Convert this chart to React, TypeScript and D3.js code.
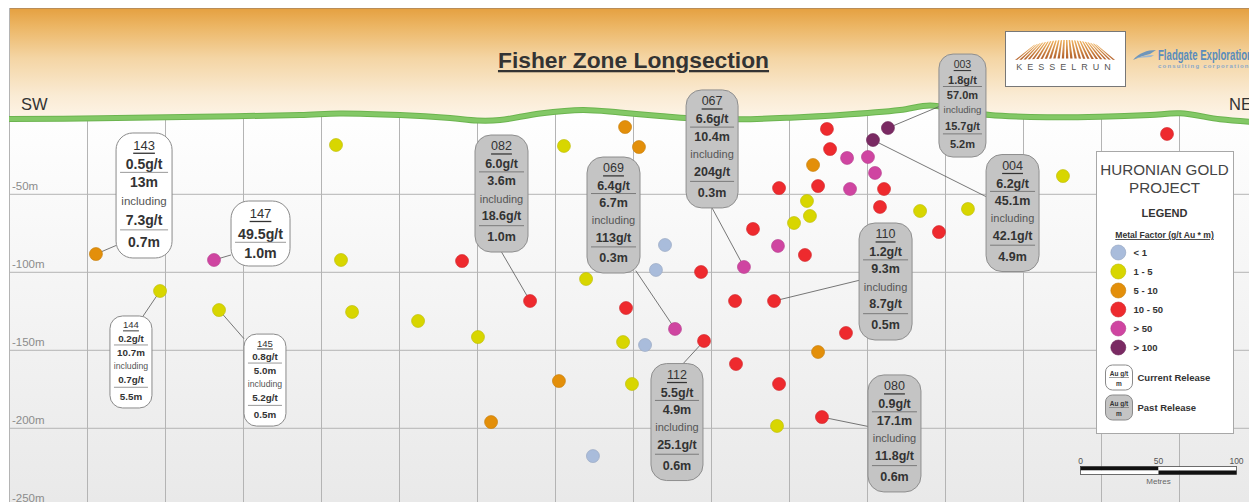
import { useEffect, useRef } from 'react';
import * as d3 from 'd3';

// 金属係数クラス (g/t Au * m)
const mfLabels = ['< 1', '1 - 5', '5 - 10', '10 - 50', '> 50', '> 100'];
const mfColors = ['#a9bcdb', '#d8d600', '#e38f0a', '#ee2a2e', '#cf45a1', '#7a2a63'];

// 着鉱点 [断面距離 m, 標高 m]
const mfBelow1 = [[370.2, -82.5], [364.4, -98.5], [357.4, -146.6], [324.0, -217.8]];
const mf1to5 = [
  [159.3, -18.4], [162.5, -92.1], [46.5, -112.0], [84.3, -124.2], [169.6, -125.4],
  [211.9, -131.2], [250.3, -141.5], [305.4, -19.0], [319.6, -104.3], [343.3, -144.7],
  [349.0, -171.6], [452.9, -68.4], [461.2, -54.3], [463.1, -63.9], [533.7, -60.7],
  [564.4, -59.4], [625.3, -38.3], [442.0, -198.5]
];
const mf5to10 = [[5.4, -88.3], [344.6, -6.9], [353.5, -19.7], [302.2, -169.7], [258.7, -196.0], [465.1, -31.2], [468.3, -151.1]];
const mf10to50 = [
  [240.1, -92.8], [283.7, -118.4], [345.2, -122.9], [393.3, -99.8], [395.2, -144.0],
  [415.1, -118.4], [440.1, -118.4], [426.6, -72.2], [459.9, -88.9], [443.3, -46.0],
  [468.3, -44.7], [474.0, -8.1], [476.0, -21.0], [510.6, -46.6], [508.0, -58.1],
  [545.8, -74.2], [692.0, -11.3], [415.7, -158.8], [443.3, -171.6], [486.2, -138.9],
  [470.8, -192.8]
];
const mfOver50 = [[81.1, -92.1], [376.6, -136.3], [420.8, -96.6], [442.6, -83.1], [486.9, -26.7], [500.3, -26.1], [504.8, -36.3], [488.8, -46.6]];
const mfOver100 = [[513.1, -7.5], [503.5, -15.2]];
const mfClasses = [mfBelow1, mf1to5, mf5to10, mf10to50, mfOver50, mfOver100];

// 地表プロファイル
const surfaceAlong = [-50.3, 8.0, 72.1, 136.2, 161.9, 200.3, 232.4, 249.7, 264.4, 290.1, 317.6, 341.3, 366.9, 386.2, 418.3, 450.3, 482.4, 520.8, 540.1, 559.3, 578.5, 617.0, 649.0, 681.1, 700.3, 726.0, 745.2];
const surfaceElev = [-1.7, -1.3, -0.3, 0.8, 1.8, 0.8, -1.1, -2.7, -2.4, 1.8, 4.0, 2.4, 0.2, -1.3, -1.9, -0.9, 0.8, 4.0, 6.9, 4.0, 0.8, -0.6, -0.3, 0.8, 1.9, -1.9, -3.5];

// 軸
const gridAlong = [0, 50, 100, 150, 200, 250, 300, 350, 400, 450, 500, 550, 600, 650, 700];
const elevTicks = [-50, -100, -150, -200, -250];

// ドリルホールの結果
const holeIds = ['143', '147', '144', '145', '082', '069', '067', '003', '004', '110', '112', '080'];
const holeGrade = ['0.5', '49.5', '0.2', '0.8', '6.0', '6.4', '6.6', '1.8', '6.2', '1.2', '5.5', '0.9'];
const holeLength = ['13', '1.0', '10.7', '5.0', '3.6', '6.7', '10.4', '57.0', '45.1', '9.3', '4.9', '17.1'];
const inclGrade = ['7.3', null, '0.7', '5.2', '18.6', '113', '204', '15.7', '42.1', '8.7', '25.1', '11.8'];
const inclLength = ['0.7', null, '5.5', '0.5', '1.0', '0.3', '0.3', '5.2', '4.9', '0.5', '0.6', '0.6'];
const holeRelease = ['current', 'current', 'current', 'current', 'past', 'past', 'past', 'past', 'past', 'past', 'past', 'past'];
const holeTarget = [[5.4, -88.3], [81.1, -92.1], [46.5, -112.0], [84.3, -124.2], [283.7, -118.4], [376.6, -136.3], [420.8, -96.6], [513.1, -7.5], [503.5, -15.2], [440.1, -118.4], [395.2, -144.0], [470.8, -192.8]];

// 吹き出しの配置 (左上の断面座標 + サイズ/フォント)
const boxLayout = [
  { along: 18.3, elev: -10.7, w: 56, h: 125, fv: 14, fi: 13, fc: 11.5, ax: 0, ay: 0.9 },
  { along: 92.0, elev: -54.3, w: 59, h: 65, fv: 14.2, fi: 13, fc: 11, ax: 0, ay: 0.83 },
  { along: 14.4, elev: -128.0, w: 42, h: 92, fv: 9.8, fi: 9.5, fc: 8.7, ax: 0.79, ay: 0 },
  { along: 100.3, elev: -139.6, w: 42, h: 92, fv: 9.8, fi: 9.5, fc: 8.7, ax: 0, ay: 0.05 },
  { along: 248.4, elev: -12.0, w: 53, h: 117, fv: 12.5, fi: 12.5, fc: 11, ax: 0.5, ay: 1 },
  { along: 320.2, elev: -26.1, w: 53, h: 116, fv: 12.5, fi: 12.5, fc: 11, ax: 0.92, ay: 0.98 },
  { along: 383.7, elev: 16.9, w: 52, h: 118, fv: 12.5, fi: 12.5, fc: 11, ax: 0.5, ay: 1 },
  { along: 545.8, elev: 39.9, w: 47, h: 103, fv: 11, fi: 10.5, fc: 9.6, ax: 0, ay: 0.51 },
  { along: 576.0, elev: -24.5, w: 53, h: 117, fv: 12.5, fi: 12.5, fc: 11, ax: 0, ay: 0.36 },
  { along: 494.6, elev: -68.4, w: 53, h: 117, fv: 12.5, fi: 12.5, fc: 11, ax: 0, ay: 0.49 },
  { along: 361.2, elev: -158.5, w: 52, h: 117, fv: 12.5, fi: 12.5, fc: 11, ax: 0.62, ay: 0 },
  { along: 500.3, elev: -165.8, w: 53, h: 117, fv: 12.5, fi: 12.5, fc: 11, ax: 0, ay: 0.44 }
];

const W = 1249;
const H = 502;
const FONT = "'Liberation Sans', Arial, sans-serif";

export default function App() {
  const svgRef = useRef<SVGSVGElement>(null);

  useEffect(() => {
    const svg = d3.select(svgRef.current).html('');

    // 1.56 px / m の断面スケール
    const x = d3.scaleLinear().domain([0, 700]).range([87.5, 87.5 + 700 * 1.56]);
    const y = d3.scaleLinear().domain([0, -250]).range([116.3, 116.3 + 250 * 1.56]);

    const defs = svg.append('defs');
    const sky = defs.append('linearGradient').attr('id', 'sky').attr('x1', 0).attr('x2', 0).attr('y1', 0).attr('y2', 1);
    [['0%', '#e5a040'], ['15%', '#ecb665'], ['40%', '#f4d5a4'], ['70%', '#faebd4'], ['100%', '#fffaf3']].forEach(([o, c]) =>
      sky.append('stop').attr('offset', o).attr('stop-color', c));
    const ground = defs.append('linearGradient').attr('id', 'ground').attr('x1', 0).attr('x2', 0).attr('y1', 0).attr('y2', 1);
    [['0%', '#ffffff'], ['100%', '#e9e9e9']].forEach(([o, c]) =>
      ground.append('stop').attr('offset', o).attr('stop-color', c));
    const rays = defs.append('linearGradient').attr('id', 'rays').attr('x1', 0).attr('x2', 0).attr('y1', 0).attr('y2', 1);
    [['0%', '#f0b35e'], ['100%', '#b2602c']].forEach(([o, c]) =>
      rays.append('stop').attr('offset', o).attr('stop-color', c));

    const profile = surfaceAlong.map((a, i) => [a, surfaceElev[i]]);
    const area = d3.area<number[]>().x(d => x(d[0])).y0(H).y1(d => y(d[1])).curve(d3.curveCatmullRom);
    const line = d3.line<number[]>().x(d => x(d[0])).y(d => y(d[1])).curve(d3.curveCatmullRom);

    defs.append('clipPath').attr('id', 'underground').append('path').attr('d', area(profile));

    // 背景
    svg.append('rect').attr('x', 9).attr('y', 8).attr('width', W - 9).attr('height', 125).attr('fill', 'url(#sky)');
    svg.append('line').attr('x1', 9).attr('x2', W).attr('y1', 8.5).attr('y2', 8.5).attr('stroke', '#b98d58').attr('stroke-width', 1);
    svg.append('path').attr('d', area(profile)).attr('fill', 'url(#ground)');

    // グリッド
    const grid = svg.append('g').attr('clip-path', 'url(#underground)').attr('stroke', '#b4b4b4').attr('stroke-width', 1);
    gridAlong.forEach(a => grid.append('line').attr('x1', x(a)).attr('x2', x(a)).attr('y1', 90).attr('y2', H));
    elevTicks.forEach(e => grid.append('line').attr('x1', 9).attr('x2', W).attr('y1', y(e)).attr('y2', y(e)));
    svg.append('line').attr('x1', 9.5).attr('x2', 9.5).attr('y1', 8).attr('y2', H).attr('stroke', '#b4b4b4');

    elevTicks.forEach(e => svg.append('text').attr('x', 12).attr('y', y(e) - 4)
      .attr('font-family', FONT).attr('font-size', 11.5).attr('fill', '#8c8c8c').text(`${e}m`));

    // 地表線
    svg.append('path').attr('d', line(profile)).attr('fill', 'none').attr('stroke', '#6cb44f').attr('stroke-width', 6);
    svg.append('path').attr('d', line(profile)).attr('fill', 'none').attr('stroke', '#83c866').attr('stroke-width', 4);

    // タイトル, 方位
    svg.append('text').attr('x', 633.5).attr('y', 68).attr('text-anchor', 'middle')
      .attr('font-family', FONT).attr('font-weight', 'bold').attr('font-size', 22.8).attr('fill', '#333')
      .attr('text-decoration', 'underline').text('Fisher Zone Longsection');
    svg.append('text').attr('x', 21).attr('y', 110).attr('font-family', FONT).attr('font-size', 16.5).attr('fill', '#333').text('SW');
    svg.append('text').attr('x', 1229).attr('y', 110).attr('font-family', FONT).attr('font-size', 16.5).attr('fill', '#333').text('NE');

    // ロゴ (Kesselrun)
    svg.append('rect').attr('x', 1005.5).attr('y', 31.5).attr('width', 120).attr('height', 55).attr('fill', '#fff').attr('stroke', '#777');
    const N = 24;
    const xb = (t: number) => 1015 + t * 102;
    const yb = (t: number) => 60 - (1 - ((t - 0.5) * 2) ** 2) * 1.5;
    const xt = (t: number) => 1034 + t * 64;
    const yt = (t: number) => 40 + ((t - 0.5) * 2) ** 2 * 5;
    const rayG = svg.append('g').attr('fill', 'url(#rays)');
    for (let i = 0; i < N; i++) {
      const t0 = i / N;
      const t1 = (i + 0.55) / N;
      rayG.append('polygon').attr('points', [[xb(t0), yb(t0)], [xt(t0), yt(t0)], [xt(t1), yt(t1)], [xb(t1), yb(t1)]].map(p => p.join(',')).join(' '));
    }
    svg.append('text').attr('x', 1066).attr('y', 70).attr('text-anchor', 'middle').attr('font-family', FONT)
      .attr('font-size', 9).attr('letter-spacing', 5).attr('fill', '#555').text('KESSELRUN');

    // ロゴ (Fladgate)
    svg.append('path').attr('d', 'M1133,60 C1139,53 1147,50 1156,50 L1150,54 C1145,55 1140,57 1133,60 Z').attr('fill', '#6f96ba');
    svg.append('path').attr('d', 'M1136,58 C1142,56 1148,55 1154,55 L1151,57 C1146,57 1141,58 1136,58 Z').attr('fill', '#9bb7d2');
    svg.append('text').attr('x', 1158).attr('y', 60).attr('font-family', "'Liberation Sans Narrow', 'Liberation Sans', Arial, sans-serif")
      .attr('font-weight', 'bold').attr('font-size', 14.5).attr('fill', '#5a8cbc')
      .attr('textLength', 95).attr('lengthAdjust', 'spacingAndGlyphs').text('Fladgate Exploration');
    svg.append('text').attr('x', 1158).attr('y', 67.5).attr('font-family', FONT).attr('font-weight', 'bold')
      .attr('font-size', 6).attr('letter-spacing', 1.2).attr('fill', '#8aa8c8').text('consulting corporation');

    // 引き出し線
    const leaders = svg.append('g').attr('stroke', '#555').attr('stroke-width', 0.8);
    holeIds.forEach((_, i) => {
      const L = boxLayout[i];
      const bx = x(L.along);
      const by = y(L.elev);
      leaders.append('line')
        .attr('x1', x(holeTarget[i][0])).attr('y1', y(holeTarget[i][1]))
        .attr('x2', bx + L.w * L.ax).attr('y2', by + L.h * L.ay);
    });

    // 着鉱点
    mfClasses.forEach((pts, ci) => {
      svg.append('g').selectAll('circle').data(pts).enter().append('circle')
        .attr('cx', d => x(d[0])).attr('cy', d => y(d[1])).attr('r', 6.5)
        .attr('fill', mfColors[ci])
        .attr('stroke', d3.color(mfColors[ci])!.darker(0.4).toString()).attr('stroke-width', 0.6);
    });

    // 吹き出し
    holeIds.forEach((id, i) => {
      const L = boxLayout[i];
      const bx = x(L.along);
      const by = y(L.elev);
      const past = holeRelease[i] === 'past';
      const g = svg.append('g');
      g.append('rect').attr('x', bx).attr('y', by).attr('width', L.w).attr('height', L.h)
        .attr('rx', L.w * 0.3).attr('ry', Math.min(L.w * 0.3, L.h * 0.3))
        .attr('fill', past ? '#c4c4c4' : '#ffffff').attr('stroke', past ? '#8e8e8e' : '#8a8a8a').attr('stroke-width', 1);

      const rows = inclGrade[i] == null
        ? [
          { t: id, f: 'id', fy: 0.19 },
          { t: `${holeGrade[i]}g/t`, f: 'v', fy: 0.5 },
          { t: `${holeLength[i]}m`, f: 'v', fy: 0.8 }
        ]
        : [
          { t: id, f: 'id', fy: 0.097 },
          { t: `${holeGrade[i]}g/t`, f: 'v', fy: 0.248 },
          { t: `${holeLength[i]}m`, f: 'v', fy: 0.395 },
          { t: 'including', f: 'c', fy: 0.543 },
          { t: `${inclGrade[i]}g/t`, f: 'v', fy: 0.694 },
          { t: `${inclLength[i]}m`, f: 'v', fy: 0.872 }
        ];
      const seps = inclGrade[i] == null ? [0.635] : [0.315, 0.775];

      rows.forEach(r => {
        g.append('text').attr('x', bx + L.w / 2).attr('y', by + L.h * r.fy)
          .attr('text-anchor', 'middle').attr('dominant-baseline', 'central')
          .attr('font-family', FONT)
          .attr('font-size', r.f === 'v' ? L.fv : r.f === 'id' ? L.fi : L.fc)
          .attr('font-weight', r.f === 'v' ? 'bold' : 'normal')
          .attr('fill', r.f === 'c' ? '#555' : '#333')
          .attr('text-decoration', r.f === 'id' ? 'underline' : null)
          .text(r.t);
      });
      seps.forEach(s => g.append('line').attr('x1', bx + 4).attr('x2', bx + L.w - 4)
        .attr('y1', by + L.h * s).attr('y2', by + L.h * s)
        .attr('stroke', past ? '#7a7a7a' : '#999').attr('stroke-width', 1));
    });

    // 凡例
    const lg = svg.append('g');
    lg.append('rect').attr('x', 1096.5).attr('y', 151.5).attr('width', 137).attr('height', 282)
      .attr('fill', '#fff').attr('stroke', '#a8a8a8');
    lg.append('text').attr('x', 1164.5).attr('y', 175).attr('text-anchor', 'middle').attr('font-family', FONT)
      .attr('font-size', 15.2).attr('fill', '#444').text('HURONIAN GOLD');
    lg.append('text').attr('x', 1164.5).attr('y', 192.5).attr('text-anchor', 'middle').attr('font-family', FONT)
      .attr('font-size', 15.2).attr('fill', '#444').text('PROJECT');
    lg.append('text').attr('x', 1164.5).attr('y', 216.5).attr('text-anchor', 'middle').attr('font-family', FONT)
      .attr('font-size', 11).attr('font-weight', 'bold').attr('fill', '#333').text('LEGEND');
    lg.append('text').attr('x', 1164.5).attr('y', 238).attr('text-anchor', 'middle').attr('font-family', FONT)
      .attr('font-size', 8.6).attr('font-weight', 'bold').attr('fill', '#333')
      .attr('text-decoration', 'underline').text('Metal Factor (g/t Au * m)');

    mfLabels.forEach((lab, i) => {
      const cy = 252.5 + i * 19;
      lg.append('circle').attr('cx', 1118.3).attr('cy', cy).attr('r', 7.5)
        .attr('fill', mfColors[i]).attr('stroke', d3.color(mfColors[i])!.darker(0.4).toString()).attr('stroke-width', 0.6);
      lg.append('text').attr('x', 1133.5).attr('y', cy).attr('dominant-baseline', 'central').attr('font-family', FONT)
        .attr('font-size', 9.5).attr('font-weight', 'bold').attr('fill', '#333').text(lab);
    });

    [['current', 'Current Release', 365], ['past', 'Past Release', 395]].forEach(([kind, lab, top]) => {
      const t = top as number;
      lg.append('rect').attr('x', 1105.5).attr('y', t).attr('width', 27).attr('height', 25).attr('rx', 7)
        .attr('fill', kind === 'past' ? '#c4c4c4' : '#fff').attr('stroke', '#8a8a8a');
      lg.append('text').attr('x', 1119).attr('y', t + 8).attr('text-anchor', 'middle').attr('dominant-baseline', 'central')
        .attr('font-family', FONT).attr('font-size', 6.5).attr('font-weight', 'bold').attr('fill', '#333').text('Au g/t');
      lg.append('line').attr('x1', 1109).attr('x2', 1129).attr('y1', t + 12.5).attr('y2', t + 12.5).attr('stroke', '#777').attr('stroke-width', 0.7);
      lg.append('text').attr('x', 1119).attr('y', t + 18.5).attr('text-anchor', 'middle').attr('dominant-baseline', 'central')
        .attr('font-family', FONT).attr('font-size', 6.5).attr('font-weight', 'bold').attr('fill', '#333').text('m');
      lg.append('text').attr('x', 1137.5).attr('y', t + 12.5).attr('dominant-baseline', 'central').attr('font-family', FONT)
        .attr('font-size', 9.5).attr('font-weight', 'bold').attr('fill', '#333').text(lab as string);
    });

    // スケールバー
    const sb = svg.append('g');
    const sx0 = 1080.5;
    const half = x(50) - x(0);
    const sy = 466.5;
    sb.append('rect').attr('x', sx0).attr('y', sy).attr('width', half).attr('height', 4).attr('fill', '#111');
    sb.append('rect').attr('x', sx0).attr('y', sy + 4).attr('width', half).attr('height', 4).attr('fill', '#fff');
    sb.append('rect').attr('x', sx0 + half).attr('y', sy).attr('width', half).attr('height', 4).attr('fill', '#fff');
    sb.append('rect').attr('x', sx0 + half).attr('y', sy + 4).attr('width', half).attr('height', 4).attr('fill', '#111');
    sb.append('rect').attr('x', sx0).attr('y', sy).attr('width', half * 2).attr('height', 8).attr('fill', 'none').attr('stroke', '#333').attr('stroke-width', 0.7);
    [0, 50, 100].forEach((m, i) => sb.append('text').attr('x', sx0 + half * i).attr('y', 464)
      .attr('text-anchor', 'middle').attr('font-family', FONT).attr('font-size', 8.5).attr('fill', '#555').text(m));
    sb.append('text').attr('x', sx0 + half).attr('y', 484).attr('text-anchor', 'middle').attr('font-family', FONT)
      .attr('font-size', 8).attr('fill', '#666').text('Metres');
  }, []);

  return (
    <svg ref={svgRef} width={W} height={H} style={{ position: 'absolute', left: 0, top: 0, background: '#fff' }} />
  );
}
